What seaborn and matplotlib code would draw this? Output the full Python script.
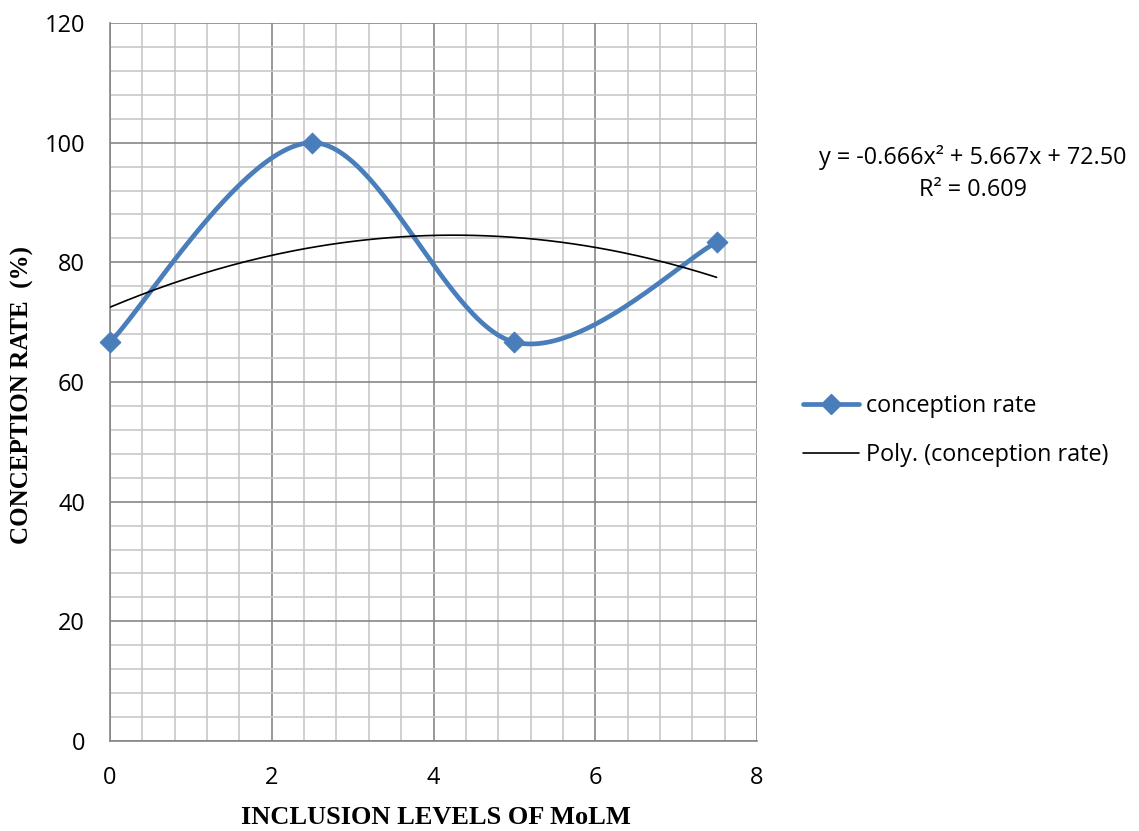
import numpy as np
import pandas as pd
import matplotlib
matplotlib.use("Agg")
import matplotlib.pyplot as plt
from matplotlib.lines import Line2D
from matplotlib.ticker import MultipleLocator
import seaborn as sns

# data
inclusion_levels = [0, 2.5, 5, 7.5]
conception_rate = [66.67, 100.0, 66.67, 83.33]
equation_text = "y = -0.666x² + 5.667x + 72.50"
r2_text = "R² = 0.609"

blue = "#4a7ebb"

sns.set_style("white", {"text.color": "black", "axes.labelcolor": "black",
                        "xtick.color": "black", "ytick.color": "black"})
plt.rcParams["font.family"] = ["Open Sans", "DejaVu Sans"]

# Excel-like smoothed line (Catmull-Rom as cubic bezier segments)
pts = np.column_stack([inclusion_levels, conception_rate]).astype(float)
curve = []
t = np.linspace(0, 1, 60)[:, None]
for i in range(len(pts) - 1):
    p0 = pts[i - 1] if i > 0 else pts[i]
    p1 = pts[i]
    p2 = pts[i + 1]
    p3 = pts[i + 2] if i + 2 < len(pts) else pts[i + 1]
    c1 = p1 + (p2 - p0) / 6
    c2 = p2 - (p3 - p1) / 6
    seg = ((1 - t) ** 3) * p1 + 3 * ((1 - t) ** 2) * t * c1 + 3 * (1 - t) * t ** 2 * c2 + t ** 3 * p2
    curve.append(seg)
curve = np.vstack(curve)
smooth_df = pd.DataFrame({"x": curve[:, 0], "y": curve[:, 1]})

# polynomial trend line (order 2) fitted to the data
coef = np.polyfit(inclusion_levels, conception_rate, 2)
xt = np.linspace(min(inclusion_levels), max(inclusion_levels), 200)
trend_df = pd.DataFrame({"x": xt, "y": np.polyval(coef, xt)})

fig = plt.figure(figsize=(11.39, 8.31), dpi=100)
ax = fig.add_axes([0.0966, 0.1083, 0.568, 0.864])

ax.set_xlim(0, 8)
ax.set_ylim(0, 120)
ax.xaxis.set_major_locator(MultipleLocator(2))
ax.xaxis.set_minor_locator(MultipleLocator(0.4))
ax.yaxis.set_major_locator(MultipleLocator(20))
ax.yaxis.set_minor_locator(MultipleLocator(4))
ax.grid(which="minor", color="#c8c8c8", linewidth=1.2)
ax.grid(which="major", color="#868686", linewidth=1.2)
ax.set_axisbelow(True)

sns.lineplot(data=smooth_df, x="x", y="y", ax=ax, color=blue, linewidth=3.4,
             sort=False, estimator=None, zorder=3)
sns.scatterplot(x=inclusion_levels, y=conception_rate, ax=ax, marker="D", s=110,
                color=blue, edgecolor=blue, zorder=4, clip_on=False)
sns.lineplot(data=trend_df, x="x", y="y", ax=ax, color="black", linewidth=1.2,
             estimator=None, zorder=5)

for s in ["top", "right"]:
    ax.spines[s].set_visible(False)
for s in ["left", "bottom"]:
    ax.spines[s].set_color("#868686")
    ax.spines[s].set_linewidth(1.2)

ax.tick_params(axis="both", which="major", length=6, width=1.2, color="#868686",
               labelcolor="black", labelsize=17, direction="out", pad=12)
ax.tick_params(axis="both", which="minor", length=0)

ax.set_xlabel("INCLUSION LEVELS OF MoLM", family=["Liberation Serif"], fontweight="bold",
              fontsize=19)
ax.set_ylabel("CONCEPTION RATE  (%)", family=["Liberation Serif"], fontweight="bold",
              fontsize=18)
ax.xaxis.set_label_coords(0.503, -0.106)
ax.yaxis.set_label_coords(-0.135, 0.482)
ax.xaxis.label.set_va("center")
ax.yaxis.label.set_va("center")

fig.text(0.854, 0.810, equation_text, ha="center", va="center", fontsize=16.8)
fig.text(0.854, 0.771, r2_text, ha="center", va="center", fontsize=16.8)

handles = [
    Line2D([0], [0], color=blue, linewidth=3.4, marker="D", markersize=10),
    Line2D([0], [0], color="black", linewidth=1.2),
]
fig.legend(handles, ["conception rate", "Poly. (conception rate)"],
           loc="center left", bbox_to_anchor=(0.697, 0.482), frameon=False,
           fontsize=16.8, handlelength=2.4, handletextpad=0.3, labelspacing=1.05,
           borderaxespad=0)

fig.savefig("out.png", dpi=100)
